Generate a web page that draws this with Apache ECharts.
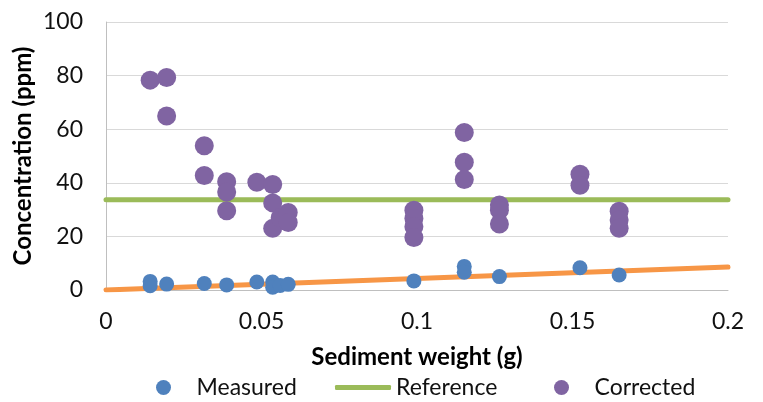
<!DOCTYPE html>
<html>
<head>
<meta charset="utf-8">
<title>Concentration vs sediment weight</title>
<script src="https://cdn.jsdelivr.net/npm/echarts@6/dist/echarts.min.js"></script>
<style>
  html, body { margin: 0; padding: 0; background: #fff; }
  #chart { width: 763px; height: 402px; }
</style>
</head>
<body>
<div id="chart"></div>
<script>
// Sediment weight (g) of each sample
const measuredX = [0.0142, 0.0142, 0.0195, 0.0316, 0.0388, 0.0485, 0.0536, 0.0536, 0.056, 0.0586,
                   0.099, 0.1152, 0.1152, 0.1265, 0.1524, 0.165];
// Measured concentration (ppm)
const measuredY = [3.2, 1.6, 2.2, 2.4, 1.9, 3.0, 3.0, 1.0, 1.7, 2.1,
                   3.4, 8.8, 6.6, 5.0, 8.3, 5.6];

// Corrected concentration (ppm)
const correctedX = [0.0142, 0.0195, 0.0195, 0.0316, 0.0316, 0.0388, 0.0388, 0.0388,
                    0.0485, 0.0536, 0.0536, 0.0536, 0.056, 0.0586, 0.0586,
                    0.099, 0.099, 0.099, 0.099,
                    0.1152, 0.1152, 0.1152,
                    0.1265, 0.1265, 0.1265,
                    0.1524, 0.1524,
                    0.165, 0.165, 0.165];
const correctedY = [78.3, 79.3, 64.9, 53.8, 42.7, 40.4, 36.6, 29.6,
                    40.2, 39.4, 32.5, 23.0, 27.0, 28.9, 25.2,
                    29.8, 26.7, 23.6, 19.6,
                    58.8, 47.7, 41.2,
                    31.7, 29.8, 24.6,
                    43.2, 39.1,
                    29.4, 26.1, 23.0];

// Reference level (ppm) and linear trend of the measured values
const referenceX = [0, 0.2];
const referenceY = [33.7, 33.7];
const trendX = [0, 0.2];
const trendY = [0, 8.55];

// Axis ticks
const xTicks = [0, 0.05, 0.1, 0.15, 0.2];
const yTicks = [0, 20, 40, 60, 80, 100];

const zip = (xs, ys) => xs.map((x, i) => [x, ys[i]]);

const FONT = 'Lato';
const labelStyle = { fontFamily: FONT, fontSize: 23, color: '#111' };
const titleStyle = { fontFamily: FONT, fontSize: 24, fontWeight: 'bold', color: '#000' };

const legendBase = {
  orient: 'horizontal',
  top: 376,
  padding: 0,
  itemWidth: 56,
  itemHeight: 15,
  textStyle: { fontFamily: FONT, fontSize: 23, color: '#111' },
  selectedMode: false
};

const chart = echarts.init(document.getElementById('chart'), null, { renderer: 'canvas' });
chart.setOption({
  animation: false,
  backgroundColor: '#fff',
  grid: { left: 106, right: 35, top: 22, bottom: 112, containLabel: false },
  legend: [
    Object.assign({}, legendBase, { left: 156, data: [{ name: 'Measured', icon: 'circle' }] }),
    Object.assign({}, legendBase, { left: 335, itemHeight: 5, data: [{ name: 'Reference', icon: 'roundRect' }] }),
    Object.assign({}, legendBase, { left: 554, data: [{ name: 'Corrected', icon: 'circle' }] })
  ],
  xAxis: {
    type: 'value',
    min: xTicks[0],
    max: xTicks[xTicks.length - 1],
    interval: xTicks[1] - xTicks[0],
    name: 'Sediment weight (g)',
    nameLocation: 'middle',
    nameGap: 55,
    nameMoveOverlap: false,
    nameTextStyle: titleStyle,
    axisLine: { show: true, lineStyle: { color: '#BFBFBF', width: 1 } },
    axisTick: { show: false },
    axisLabel: Object.assign({ margin: 20 }, labelStyle),
    splitLine: { show: false }
  },
  yAxis: {
    type: 'value',
    min: yTicks[0],
    max: yTicks[yTicks.length - 1],
    interval: yTicks[1] - yTicks[0],
    name: 'Concentration (ppm)',
    nameLocation: 'middle',
    nameGap: 71,
    nameMoveOverlap: false,
    nameTextStyle: titleStyle,
    axisLine: { show: true, lineStyle: { color: '#BFBFBF', width: 1 } },
    axisTick: { show: false },
    axisLabel: Object.assign({ margin: 23 }, labelStyle),
    splitLine: { show: true, lineStyle: { color: '#D9D9D9', width: 1 } }
  },
  series: [
    {
      name: 'Linear (Measured)',
      type: 'line',
      data: zip(trendX, trendY),
      symbol: 'none',
      z: 2,
      lineStyle: { color: '#F79646', width: 5, cap: 'round' },
      silent: true
    },
    {
      name: 'Reference',
      type: 'line',
      data: zip(referenceX, referenceY),
      symbol: 'none',
      z: 2,
      color: '#9BBB59',
      itemStyle: { color: '#9BBB59' },
      lineStyle: { color: '#9BBB59', width: 5, cap: 'round' },
      silent: true
    },
    {
      name: 'Measured',
      type: 'scatter',
      data: zip(measuredX, measuredY),
      symbol: 'circle',
      symbolSize: 15,
      z: 3,
      itemStyle: { color: '#4F81BD', opacity: 1 }
    },
    {
      name: 'Corrected',
      type: 'scatter',
      data: zip(correctedX, correctedY),
      symbol: 'circle',
      symbolSize: 19,
      z: 4,
      itemStyle: { color: '#8064A2', opacity: 1 }
    }
  ]
});
</script>
</body>
</html>
